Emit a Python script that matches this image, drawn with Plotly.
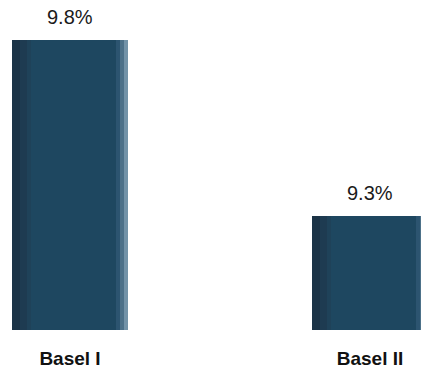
import plotly.graph_objects as go

categories = ["Basel I", "Basel II"]
values = [9.8, 9.3]
labels = ["9.8%", "9.3%"]

x_pos = list(range(len(categories)))
W = 116 / 300.0  # bar width in axis units

# shading stripes: (start px, end px, colour) within a 116 px bar
stripes = [
    (0, 116, "#1e4760"),
    (0, 8, "#1b3346"),
    (8, 15, "#1e3b51"),
    (15, 19, "#1f4259"),
    (104, 108, "#2c5470"),
    (108, 112, "#4d7189"),
    (112, 116, "#7393a8"),
]

fig = go.Figure()
for s, e, c in stripes:
    fig.add_trace(go.Bar(
        x=x_pos, y=values,
        width=(e - s) / 300.0,
        offset=-W / 2 + s / 300.0,
        marker=dict(color=c, line=dict(width=0)),
        hoverinfo="skip",
        showlegend=False,
    ))

for xp, v, t in zip(x_pos, values, labels):
    fig.add_annotation(
        x=xp, y=v, text=t, showarrow=False,
        xanchor="center", yanchor="bottom", yshift=10,
        font=dict(family="Liberation Sans, Arial", size=20, color="#1a1a1a"),
    )

y0 = 8.976
ppu = 352.0
fig.update_layout(
    width=421, height=371,
    margin=dict(l=0, r=0, t=0, b=41),
    paper_bgcolor="white", plot_bgcolor="white",
    barmode="overlay",
    xaxis=dict(
        range=[-70 / 300.0, (421 - 70) / 300.0],
        tickvals=x_pos, ticktext=categories,
        showgrid=False, zeroline=False, showline=False, ticks="",
        tickfont=dict(family="Liberation Sans, Arial", size=19, color="#111111", weight="bold"),
        ticklabelstandoff=15,
    ),
    yaxis=dict(
        range=[y0, y0 + 330 / ppu],
        visible=False, showgrid=False, zeroline=False,
    ),
)
fig.write_html("out.html")
